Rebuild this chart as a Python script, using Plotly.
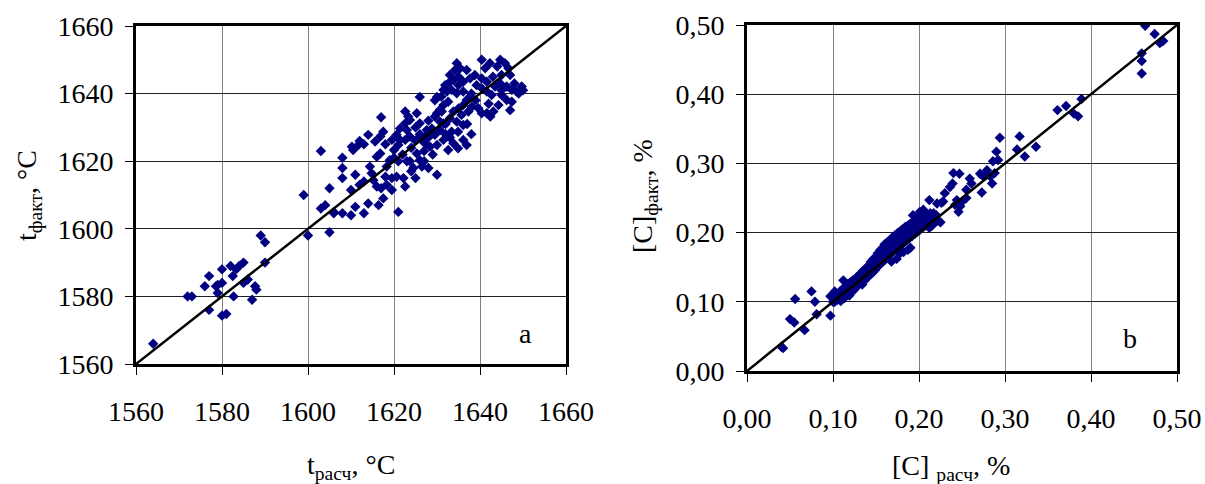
import plotly.graph_objects as go

# ---------------- Panel a: temperature ----------------
t_calc = [
    1564, 1572, 1573, 1577, 1576, 1577, 1580, 1578.6, 1579, 1579,
    1580, 1580, 1581, 1582.7, 1582, 1582.5, 1583.3, 1584, 1585, 1585,
    1586, 1587.7, 1588, 1587, 1589, 1590, 1590, 1599, 1600, 1605,
    1603, 1604, 1605, 1606, 1603, 1606, 1608, 1610, 1611, 1613,
    1614, 1616.4, 1617.5, 1621, 1608, 1608, 1608, 1610.5, 1611.7, 1610.2,
    1611, 1610, 1612, 1613, 1614, 1615.6, 1616.8, 1617.5, 1617, 1614.4,
    1614.8, 1615.2, 1616, 1617, 1618.3, 1618, 1619.5, 1620.6, 1622.2, 1622.6,
    1619.5, 1618.3, 1619, 1616, 1616.8, 1620, 1621, 1621.4, 1622.6, 1623.7,
    1623, 1621.4, 1622.6, 1623.7, 1622.6, 1626, 1623.3, 1625.3, 1626, 1627.6,
    1626, 1627.2, 1628.4, 1625.3, 1626, 1626.5, 1624.5, 1623.7, 1630, 1630,
    1629.5, 1630.7, 1631.5, 1630, 1630.7, 1629.5, 1630, 1631, 1631.5, 1632.6,
    1620.6, 1619.5, 1634.6, 1635.4, 1634.2, 1636.9, 1633, 1633.8, 1632.6, 1631.9,
    1631.5, 1632.3, 1633.4, 1634.6, 1636.1, 1635, 1636.1, 1637.7, 1638.8, 1640.4,
    1642.3, 1641.2, 1644.7, 1645.8, 1646.6, 1645, 1647, 1640.4, 1641.6, 1639.2,
    1640.4, 1641.6, 1642.7, 1643.5, 1644.7, 1646.2, 1647.4, 1645, 1646.2, 1647.4,
    1648.5, 1649.7, 1650, 1649, 1647, 1644.3, 1643.1, 1641.6, 1640.4, 1639.6,
    1638.1, 1636.9, 1637.7, 1636.1, 1635, 1633.8, 1632.6, 1631.5, 1631.1, 1629.5,
    1630.7, 1633, 1634.6, 1636.1, 1635.7, 1637.3, 1633.4, 1634.9, 1636.1, 1636.9,
    1633.8, 1634.9, 1628.8, 1627.6, 1626.8, 1642.4, 1622, 1624, 1625, 1627,
    1623, 1626, 1628, 1621, 1624, 1627, 1629, 1625, 1628, 1632,
    1632, 1633, 1638, 1637, 1612, 1613, 1618, 1620, 1625, 1628,
    1635, 1638, 1643, 1645, 1639, 1642, 1644, 1648,
]
t_fact = [
    1566, 1580, 1580, 1586, 1583, 1576, 1588, 1583, 1583.4, 1581,
    1584, 1574.3, 1574.8, 1580, 1589, 1586, 1588, 1589, 1590, 1584,
    1585, 1583, 1582, 1579, 1598, 1596, 1590, 1610, 1598, 1612,
    1606, 1607, 1599, 1605, 1623, 1604.6, 1604.6, 1604, 1606.5, 1604.6,
    1607.5, 1607, 1609, 1605, 1618, 1615, 1621, 1623.3, 1624.8, 1624.3,
    1616, 1611.5, 1613, 1614, 1627.8, 1625.8, 1627.3, 1628.7, 1633, 1618.4,
    1616.4, 1614.4, 1612.5, 1612, 1613, 1615.4, 1615, 1615.4, 1615, 1612.5,
    1611.5, 1618.4, 1620.3, 1621.3, 1622.3, 1623.3, 1624.8, 1626.3, 1626.3, 1627.3,
    1629.2, 1629.7, 1631.2, 1632.2, 1634.7, 1639, 1633.2, 1634.2, 1631.2, 1629.2,
    1627.3, 1625.3, 1624.3, 1622.3, 1620.3, 1618.4, 1618, 1620, 1616, 1624.8,
    1627.8, 1629.2, 1631.2, 1634.2, 1635.2, 1638, 1639, 1639.1, 1626.3, 1623.3,
    1627.8, 1626.3, 1649, 1647.5, 1647, 1647, 1645.5, 1644, 1643, 1642.5,
    1641.1, 1640.6, 1641.1, 1640.1, 1640.6, 1642.5, 1643.5, 1644.5, 1645.5, 1650,
    1649, 1647.5, 1650, 1649, 1647.5, 1645.5, 1645.5, 1644.5, 1643.5, 1642.5,
    1641.6, 1640.6, 1639.6, 1642.1, 1643, 1642.1, 1641.1, 1639.6, 1638.1, 1637.6,
    1640.6, 1642.1, 1641, 1640, 1635.1, 1636.6, 1634.7, 1634.2, 1634.2, 1635.7,
    1636.1, 1638.1, 1639.1, 1636.6, 1635.6, 1634.7, 1637.6, 1636.6, 1634.7, 1633.2,
    1631.7, 1632.7, 1631.7, 1630.7, 1633.7, 1634.7, 1628.7, 1628.7, 1626.3, 1624.8,
    1625.3, 1623.8, 1629.7, 1627.8, 1625.8, 1633.2, 1622, 1624, 1626, 1623,
    1620, 1628, 1627, 1620, 1617, 1620, 1622, 1630, 1632, 1628,
    1631, 1627, 1628, 1631, 1626, 1625, 1625, 1621, 1615, 1618,
    1645, 1640, 1645, 1641, 1638, 1637, 1648, 1643,
]
t_diag = [1560, 1660]
t_ticks = [1560, 1580, 1600, 1620, 1640, 1660]
t_ticktext = ["1560", "1580", "1600", "1620", "1640", "1660"]

# ---------------- Panel b: carbon ----------------
c_calc = [
    0.040, 0.042, 0.050, 0.055, 0.056, 0.067, 0.075, 0.079, 0.081, 0.097,
    0.097, 0.100, 0.104, 0.102, 0.463, 0.474, 0.480, 0.484, 0.482, 0.459,
    0.459, 0.459, 0.389, 0.371, 0.361, 0.380, 0.385, 0.294, 0.317, 0.314,
    0.336, 0.323, 0.290, 0.292, 0.286, 0.288, 0.279, 0.283, 0.285, 0.275,
    0.271, 0.273, 0.259, 0.261, 0.255, 0.240, 0.247, 0.239, 0.236, 0.230,
    0.228, 0.244, 0.248, 0.252, 0.255, 0.246, 0.242, 0.212, 0.221, 0.226,
    0.193, 0.201, 0.207, 0.217,
    0.100, 0.102, 0.103, 0.104, 0.105, 0.106, 0.107, 0.108, 0.109, 0.110,
    0.111, 0.112, 0.113, 0.114, 0.115, 0.116, 0.117, 0.118, 0.119, 0.120,
    0.121, 0.122, 0.123, 0.124, 0.125, 0.112, 0.126, 0.127, 0.128, 0.129,
    0.130, 0.131, 0.132, 0.133, 0.134, 0.135, 0.136, 0.137, 0.138, 0.139,
    0.140, 0.141, 0.142, 0.143, 0.144, 0.145, 0.146, 0.147, 0.148, 0.149,
    0.150, 0.150, 0.151, 0.152, 0.153, 0.154, 0.155, 0.156, 0.157, 0.158,
    0.159, 0.160, 0.160, 0.161, 0.162, 0.163, 0.164, 0.165, 0.166, 0.167,
    0.168, 0.169, 0.170, 0.171, 0.172, 0.173, 0.174, 0.175, 0.176, 0.177,
    0.178, 0.179, 0.180, 0.168, 0.174, 0.178, 0.182, 0.181, 0.182, 0.183,
    0.184, 0.185, 0.186, 0.187, 0.188, 0.189, 0.190, 0.191, 0.192, 0.193,
    0.194, 0.195, 0.196, 0.197, 0.198, 0.199, 0.200, 0.201, 0.202, 0.203,
    0.204, 0.205, 0.206, 0.207, 0.208, 0.209, 0.210, 0.211, 0.212, 0.213,
    0.214, 0.215, 0.216, 0.218, 0.220, 0.222, 0.225, 0.187, 0.190,
]
c_fact = [
    0.035, 0.033, 0.075, 0.070, 0.104, 0.059, 0.115, 0.100, 0.082, 0.080,
    0.108, 0.100, 0.108, 0.115, 0.499, 0.487, 0.474, 0.477, 0.476, 0.459,
    0.448, 0.430, 0.393, 0.383, 0.377, 0.372, 0.368, 0.337, 0.339, 0.320,
    0.324, 0.310, 0.317, 0.305, 0.303, 0.286, 0.290, 0.281, 0.271, 0.281,
    0.285, 0.258, 0.278, 0.271, 0.262, 0.286, 0.285, 0.271, 0.266, 0.257,
    0.245, 0.247, 0.238, 0.247, 0.250, 0.230, 0.240, 0.247, 0.242, 0.243,
    0.225, 0.230, 0.228, 0.228,
    0.105, 0.100, 0.108, 0.112, 0.103, 0.110, 0.106, 0.115, 0.101, 0.112,
    0.108, 0.118, 0.105, 0.122, 0.113, 0.110, 0.125, 0.117, 0.109, 0.128,
    0.120, 0.114, 0.131, 0.124, 0.118, 0.131, 0.128, 0.135, 0.122, 0.132,
    0.138, 0.127, 0.141, 0.134, 0.125, 0.145, 0.138, 0.131, 0.148, 0.142,
    0.135, 0.152, 0.145, 0.139, 0.158, 0.149, 0.142, 0.162, 0.153, 0.146,
    0.165, 0.157, 0.150, 0.170, 0.161, 0.153, 0.175, 0.165, 0.157, 0.178,
    0.168, 0.160, 0.183, 0.172, 0.164, 0.186, 0.176, 0.167, 0.189, 0.179,
    0.170, 0.193, 0.183, 0.174, 0.196, 0.186, 0.177, 0.199, 0.189, 0.180,
    0.202, 0.192, 0.183, 0.158, 0.162, 0.170, 0.172, 0.205, 0.195, 0.186,
    0.208, 0.198, 0.189, 0.210, 0.201, 0.192, 0.213, 0.204, 0.195, 0.216,
    0.207, 0.198, 0.219, 0.210, 0.201, 0.222, 0.213, 0.204, 0.226, 0.216,
    0.207, 0.233, 0.219, 0.210, 0.222, 0.213, 0.225, 0.216, 0.207, 0.228,
    0.219, 0.210, 0.222, 0.214, 0.225, 0.217, 0.215, 0.175, 0.178,
]
c_diag = [0.0, 0.5]
c_ticks = [0.0, 0.1, 0.2, 0.3, 0.4, 0.5]
c_ticktext = ["0,00", "0,10", "0,20", "0,30", "0,40", "0,50"]

FONT = "Liberation Serif, Times New Roman, serif"
NAVY = "#000080"
W, H = 1205, 484


def px(x):
    return x / W


def py(y):
    return 1 - y / H


fig = go.Figure()
fig.add_trace(go.Scatter(x=t_calc, y=t_fact, mode="markers", xaxis="x", yaxis="y",
                         marker=dict(symbol="diamond", size=8, color=NAVY, line=dict(width=0)),
                         showlegend=False))
fig.add_trace(go.Scatter(x=t_diag, y=t_diag, mode="lines", xaxis="x", yaxis="y",
                         line=dict(color="black", width=2.5), showlegend=False))
fig.add_trace(go.Scatter(x=c_calc, y=c_fact, mode="markers", xaxis="x2", yaxis="y2",
                         marker=dict(symbol="diamond", size=8, color=NAVY, line=dict(width=0)),
                         showlegend=False))
fig.add_trace(go.Scatter(x=c_diag, y=c_diag, mode="lines", xaxis="x2", yaxis="y2",
                         line=dict(color="black", width=2.5), showlegend=False))


def ax(domain, rng, tv, tt, anchor, gridcolor, standoff):
    return dict(domain=domain, range=rng, tickvals=tv, ticktext=tt, anchor=anchor,
                automargin=False,
                showgrid=True, gridcolor=gridcolor, gridwidth=1, zeroline=False,
                showline=True, linecolor="black", linewidth=3, mirror=True,
                ticks="outside", ticklen=8, tickwidth=1, tickcolor="black",
                ticklabelstandoff=standoff,
                tickfont=dict(family=FONT, size=28, color="black"))


xa = ax([px(136), px(566)], [1560, 1660], t_ticks, t_ticktext, "y", "#808080", 12)
ya = ax([py(364), py(26)], [1560, 1660], t_ticks, t_ticktext, "x", "#202020", 6)
xb = ax([px(747), px(1177)], [0, 0.5], c_ticks, c_ticktext, "y2", "#808080", 12)
yb = ax([py(371), py(25)], [0, 0.5], c_ticks, c_ticktext, "x2", "#202020", 6)

tf = dict(family=FONT, size=28, color="black")


def note(text, x, y, angle=0):
    return dict(text=text, x=px(x), y=py(y), xref="paper", yref="paper",
                xanchor="center", yanchor="middle", showarrow=False,
                font=tf, textangle=angle)


annotations = [
    note("a", 525, 333),
    note("b", 1130, 338),
    note("t<sub>расч</sub>, °C", 351, 466),
    note("[C] <sub>расч</sub>, %", 951, 467),
    note("t<sub>факт</sub>, °C", 28, 196, -90),
    note("[C]<sub>факт</sub>, %", 644, 196, -90),
]

fig.update_layout(
    width=W, height=H,
    margin=dict(l=0, r=0, t=0, b=0, autoexpand=False),
    paper_bgcolor="white", plot_bgcolor="white",
    xaxis=xa, yaxis=ya, xaxis2=xb, yaxis2=yb,
    annotations=annotations,
    font=dict(family=FONT, color="black"),
)

# remove the default page margin so the figure fills the 1205x484 window exactly
fig.write_html("out.html",
               config={"displayModeBar": False},
               post_script="document.body.style.margin='0px';document.body.style.overflow='hidden';")
